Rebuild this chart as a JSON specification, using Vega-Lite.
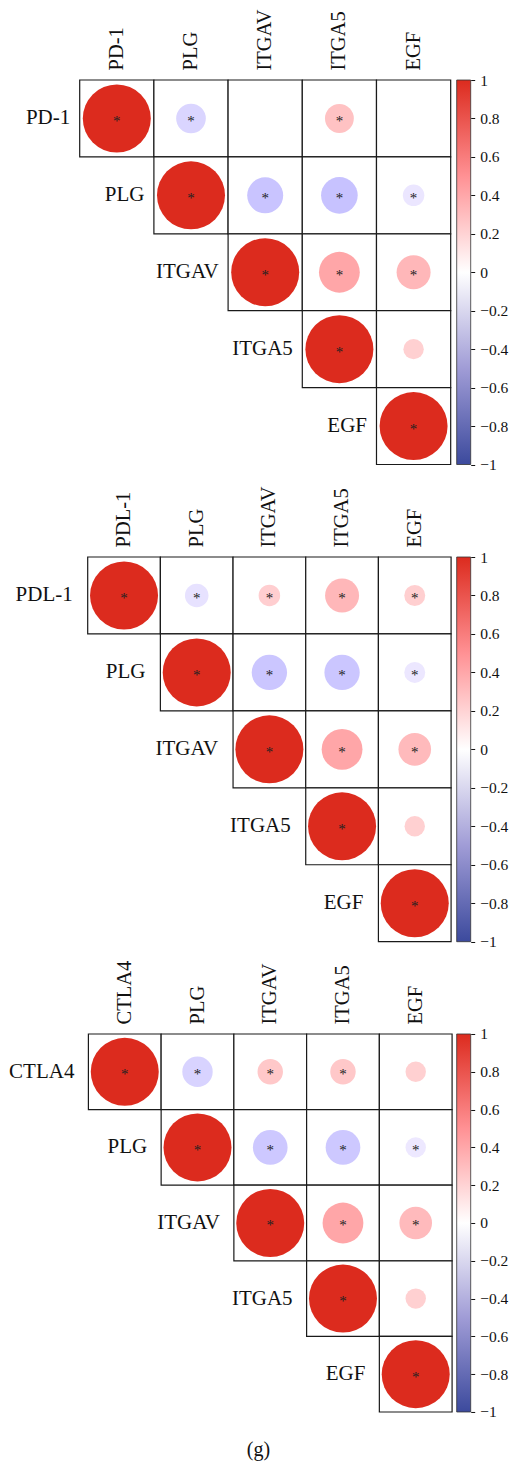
{
  "$schema": "https://vega.github.io/schema/vega-lite/v6.json",
  "padding": {"left": 8.7, "top": 8, "right": 0, "bottom": 0},
  "bounds": "flush",
  "spacing": 92,
  "title": {"text": "(g)", "orient": "bottom", "anchor": "middle", "font": "Liberation Serif", "fontSize": 20, "fontWeight": "normal", "color": "#111", "offset": 20},
  "config": {"font": "Liberation Serif", "view": {"stroke": null}, "axis": {"grid": false}},
  "datasets": {
    "pd1": [
      {"row": "PD-1", "col": "PD-1", "r": 1, "sig": true},
      {"row": "PD-1", "col": "PLG", "r": -0.19, "sig": true},
      {"row": "PD-1", "col": "ITGAV", "r": null, "sig": false},
      {"row": "PD-1", "col": "ITGA5", "r": 0.18, "sig": true},
      {"row": "PD-1", "col": "EGF", "r": null, "sig": false},
      {"row": "PLG", "col": "PLG", "r": 1, "sig": true},
      {"row": "PLG", "col": "ITGAV", "r": -0.28, "sig": true},
      {"row": "PLG", "col": "ITGA5", "r": -0.29, "sig": true},
      {"row": "PLG", "col": "EGF", "r": -0.1, "sig": true},
      {"row": "ITGAV", "col": "ITGAV", "r": 1, "sig": true},
      {"row": "ITGAV", "col": "ITGA5", "r": 0.36, "sig": true},
      {"row": "ITGAV", "col": "EGF", "r": 0.25, "sig": true},
      {"row": "ITGA5", "col": "ITGA5", "r": 1, "sig": true},
      {"row": "ITGA5", "col": "EGF", "r": 0.09, "sig": false},
      {"row": "EGF", "col": "EGF", "r": 1, "sig": true}
    ],
    "pdl1": [
      {"row": "PDL-1", "col": "PDL-1", "r": 1, "sig": true},
      {"row": "PDL-1", "col": "PLG", "r": -0.12, "sig": true},
      {"row": "PDL-1", "col": "ITGAV", "r": 0.1, "sig": true},
      {"row": "PDL-1", "col": "ITGA5", "r": 0.25, "sig": true},
      {"row": "PDL-1", "col": "EGF", "r": 0.095, "sig": true},
      {"row": "PLG", "col": "PLG", "r": 1, "sig": true},
      {"row": "PLG", "col": "ITGAV", "r": -0.27, "sig": true},
      {"row": "PLG", "col": "ITGA5", "r": -0.27, "sig": true},
      {"row": "PLG", "col": "EGF", "r": -0.095, "sig": true},
      {"row": "ITGAV", "col": "ITGAV", "r": 1, "sig": true},
      {"row": "ITGAV", "col": "ITGA5", "r": 0.36, "sig": true},
      {"row": "ITGAV", "col": "EGF", "r": 0.23, "sig": true},
      {"row": "ITGA5", "col": "ITGA5", "r": 1, "sig": true},
      {"row": "ITGA5", "col": "EGF", "r": 0.09, "sig": false},
      {"row": "EGF", "col": "EGF", "r": 1, "sig": true}
    ],
    "ctla4": [
      {"row": "CTLA4", "col": "CTLA4", "r": 1, "sig": true},
      {"row": "CTLA4", "col": "PLG", "r": -0.2, "sig": true},
      {"row": "CTLA4", "col": "ITGAV", "r": 0.14, "sig": true},
      {"row": "CTLA4", "col": "ITGA5", "r": 0.14, "sig": true},
      {"row": "CTLA4", "col": "EGF", "r": 0.09, "sig": false},
      {"row": "PLG", "col": "PLG", "r": 1, "sig": true},
      {"row": "PLG", "col": "ITGAV", "r": -0.26, "sig": true},
      {"row": "PLG", "col": "ITGA5", "r": -0.26, "sig": true},
      {"row": "PLG", "col": "EGF", "r": -0.09, "sig": true},
      {"row": "ITGAV", "col": "ITGAV", "r": 1, "sig": true},
      {"row": "ITGAV", "col": "ITGA5", "r": 0.36, "sig": true},
      {"row": "ITGAV", "col": "EGF", "r": 0.23, "sig": true},
      {"row": "ITGA5", "col": "ITGA5", "r": 1, "sig": true},
      {"row": "ITGA5", "col": "EGF", "r": 0.09, "sig": false},
      {"row": "EGF", "col": "EGF", "r": 1, "sig": true}
    ],
    "bar": [{"lo": -1, "hi": 1}]
  },
  "vconcat": [
    {
      "width": 391, "height": 384.5,
      "resolve": {"scale": {"x": "independent", "y": "independent"}, "axis": {"x": "independent", "y": "independent"}},
      "layer": [
        {
          "data": {"name": "pd1"},
          "encoding": {
            "x": {"field": "col", "type": "nominal", "title": null,
              "scale": {"domain": ["PD-1", "PLG", "ITGAV", "ITGA5", "EGF"], "range": [0, 371], "paddingInner": 0, "paddingOuter": 0},
              "axis": {"orient": "top", "labelAngle": 270, "labelFont": "Liberation Serif", "labelFontSize": 20.5, "labelColor": "#111", "labelPadding": 10, "domain": false, "ticks": false}},
            "y": {"field": "row", "type": "nominal", "title": null,
              "scale": {"domain": ["PD-1", "PLG", "ITGAV", "ITGA5", "EGF"], "paddingInner": 0, "paddingOuter": 0},
              "axis": null}
          },
          "layer": [
            {"mark": {"type": "rect", "fill": "white", "stroke": "#1a1a1a", "strokeWidth": 1.2}},
            {"transform": [{"filter": "datum.r != null"}],
             "mark": {"type": "circle", "opacity": 1},
             "encoding": {
               "color": {"field": "r", "type": "quantitative", "legend": null,
                 "scale": {"domain": [-1, -0.5, 0, 0.5, 1], "range": ["#3C4A9D", "#A09CD6", "#FFFFFF", "#FF9194", "#DC2B1E"]}},
               "size": {"field": "r", "type": "quantitative", "legend": null,
                 "scale": {"type": "linear", "zero": false, "domain": [-1, 0, 1], "range": [4624, 0, 4624]}}
             }},
            {"transform": [{"filter": "datum.sig"}],
             "mark": {"type": "text", "text": "*", "font": "Liberation Serif", "fontSize": 15, "color": "#222", "baseline": "alphabetic", "dy": 7.5}},
            {"transform": [{"filter": "datum.row === datum.col"}],
             "mark": {"type": "text", "font": "Liberation Serif", "fontSize": 21, "color": "#111", "align": "right", "baseline": "middle", "dx": -9.5},
             "encoding": {
               "x": {"field": "col", "type": "nominal", "bandPosition": 0},
               "text": {"field": "row"}
             }}
          ]
        },
        {
          "data": {"name": "bar"},
          "mark": {"type": "rect", "stroke": "#333", "strokeWidth": 0.8,
            "fill": {"gradient": "linear", "x1": 0, "y1": 1, "x2": 0, "y2": 0,
              "stops": [{"offset": 0, "color": "#3C4A9D"}, {"offset": 0.25, "color": "#A09CD6"}, {"offset": 0.5, "color": "#FFFFFF"}, {"offset": 0.75, "color": "#FF9194"}, {"offset": 1, "color": "#DC2B1E"}]}},
          "encoding": {
            "x": {"datum": 0, "type": "quantitative", "scale": {"domain": [0, 1], "range": [377, 391]}, "axis": null},
            "x2": {"datum": 1},
            "y": {"field": "lo", "type": "quantitative", "title": null, "scale": {"domain": [-1, 1]},
              "axis": {"orient": "right", "values": [-1, -0.8, -0.6, -0.4, -0.2, 0, 0.2, 0.4, 0.6, 0.8, 1], "format": ".1~f", "domain": false, "tickSize": 4, "tickColor": "#111", "labelFont": "Liberation Serif", "labelFontSize": 15.5, "labelColor": "#111", "labelPadding": 5}},
            "y2": {"field": "hi"}
          }
        }
      ]
    },
    {
      "width": 391, "height": 384.7,
      "resolve": {"scale": {"x": "independent", "y": "independent"}, "axis": {"x": "independent", "y": "independent"}},
      "layer": [
        {
          "data": {"name": "pdl1"},
          "encoding": {
            "x": {"field": "col", "type": "nominal", "title": null,
              "scale": {"domain": ["PDL-1", "PLG", "ITGAV", "ITGA5", "EGF"], "range": [8, 371.4], "paddingInner": 0, "paddingOuter": 0},
              "axis": {"orient": "top", "labelAngle": 270, "labelFont": "Liberation Serif", "labelFontSize": 20.5, "labelColor": "#111", "labelPadding": 10, "domain": false, "ticks": false}},
            "y": {"field": "row", "type": "nominal", "title": null,
              "scale": {"domain": ["PDL-1", "PLG", "ITGAV", "ITGA5", "EGF"], "paddingInner": 0, "paddingOuter": 0},
              "axis": null}
          },
          "layer": [
            {"mark": {"type": "rect", "fill": "white", "stroke": "#1a1a1a", "strokeWidth": 1.2}},
            {"transform": [{"filter": "datum.r != null"}],
             "mark": {"type": "circle", "opacity": 1},
             "encoding": {
               "color": {"field": "r", "type": "quantitative", "legend": null,
                 "scale": {"domain": [-1, -0.5, 0, 0.5, 1], "range": ["#3C4A9D", "#A09CD6", "#FFFFFF", "#FF9194", "#DC2B1E"]}},
               "size": {"field": "r", "type": "quantitative", "legend": null,
                 "scale": {"type": "linear", "zero": false, "domain": [-1, 0, 1], "range": [4449, 0, 4449]}}
             }},
            {"transform": [{"filter": "datum.sig"}],
             "mark": {"type": "text", "text": "*", "font": "Liberation Serif", "fontSize": 15, "color": "#222", "baseline": "alphabetic", "dy": 7.5}},
            {"transform": [{"filter": "datum.row === datum.col"}],
             "mark": {"type": "text", "font": "Liberation Serif", "fontSize": 21, "color": "#111", "align": "right", "baseline": "middle", "dx": -15},
             "encoding": {
               "x": {"field": "col", "type": "nominal", "bandPosition": 0},
               "text": {"field": "row"}
             }}
          ]
        },
        {
          "data": {"name": "bar"},
          "mark": {"type": "rect", "stroke": "#333", "strokeWidth": 0.8,
            "fill": {"gradient": "linear", "x1": 0, "y1": 1, "x2": 0, "y2": 0,
              "stops": [{"offset": 0, "color": "#3C4A9D"}, {"offset": 0.25, "color": "#A09CD6"}, {"offset": 0.5, "color": "#FFFFFF"}, {"offset": 0.75, "color": "#FF9194"}, {"offset": 1, "color": "#DC2B1E"}]}},
          "encoding": {
            "x": {"datum": 0, "type": "quantitative", "scale": {"domain": [0, 1], "range": [377, 391]}, "axis": null},
            "x2": {"datum": 1},
            "y": {"field": "lo", "type": "quantitative", "title": null, "scale": {"domain": [-1, 1]},
              "axis": {"orient": "right", "values": [-1, -0.8, -0.6, -0.4, -0.2, 0, 0.2, 0.4, 0.6, 0.8, 1], "format": ".1~f", "domain": false, "tickSize": 4, "tickColor": "#111", "labelFont": "Liberation Serif", "labelFontSize": 15.5, "labelColor": "#111", "labelPadding": 5}},
            "y2": {"field": "hi"}
          }
        }
      ]
    },
    {
      "width": 391, "height": 378,
      "resolve": {"scale": {"x": "independent", "y": "independent"}, "axis": {"x": "independent", "y": "independent"}},
      "layer": [
        {
          "data": {"name": "ctla4"},
          "encoding": {
            "x": {"field": "col", "type": "nominal", "title": null,
              "scale": {"domain": ["CTLA4", "PLG", "ITGAV", "ITGA5", "EGF"], "range": [8.7, 372.4], "paddingInner": 0, "paddingOuter": 0},
              "axis": {"orient": "top", "labelAngle": 270, "labelFont": "Liberation Serif", "labelFontSize": 20.5, "labelColor": "#111", "labelPadding": 10, "domain": false, "ticks": false}},
            "y": {"field": "row", "type": "nominal", "title": null,
              "scale": {"domain": ["CTLA4", "PLG", "ITGAV", "ITGA5", "EGF"], "paddingInner": 0, "paddingOuter": 0},
              "axis": null}
          },
          "layer": [
            {"mark": {"type": "rect", "fill": "white", "stroke": "#1a1a1a", "strokeWidth": 1.2}},
            {"transform": [{"filter": "datum.r != null"}],
             "mark": {"type": "circle", "opacity": 1},
             "encoding": {
               "color": {"field": "r", "type": "quantitative", "legend": null,
                 "scale": {"domain": [-1, -0.5, 0, 0.5, 1], "range": ["#3C4A9D", "#A09CD6", "#FFFFFF", "#FF9194", "#DC2B1E"]}},
               "size": {"field": "r", "type": "quantitative", "legend": null,
                 "scale": {"type": "linear", "zero": false, "domain": [-1, 0, 1], "range": [4356, 0, 4356]}}
             }},
            {"transform": [{"filter": "datum.sig"}],
             "mark": {"type": "text", "text": "*", "font": "Liberation Serif", "fontSize": 15, "color": "#222", "baseline": "alphabetic", "dy": 7.5}},
            {"transform": [{"filter": "datum.row === datum.col"}],
             "mark": {"type": "text", "font": "Liberation Serif", "fontSize": 21, "color": "#111", "align": "right", "baseline": "middle", "dx": -14},
             "encoding": {
               "x": {"field": "col", "type": "nominal", "bandPosition": 0},
               "text": {"field": "row"}
             }}
          ]
        },
        {
          "data": {"name": "bar"},
          "mark": {"type": "rect", "stroke": "#333", "strokeWidth": 0.8,
            "fill": {"gradient": "linear", "x1": 0, "y1": 1, "x2": 0, "y2": 0,
              "stops": [{"offset": 0, "color": "#3C4A9D"}, {"offset": 0.25, "color": "#A09CD6"}, {"offset": 0.5, "color": "#FFFFFF"}, {"offset": 0.75, "color": "#FF9194"}, {"offset": 1, "color": "#DC2B1E"}]}},
          "encoding": {
            "x": {"datum": 0, "type": "quantitative", "scale": {"domain": [0, 1], "range": [377, 391]}, "axis": null},
            "x2": {"datum": 1},
            "y": {"field": "lo", "type": "quantitative", "title": null, "scale": {"domain": [-1, 1]},
              "axis": {"orient": "right", "values": [-1, -0.8, -0.6, -0.4, -0.2, 0, 0.2, 0.4, 0.6, 0.8, 1], "format": ".1~f", "domain": false, "tickSize": 4, "tickColor": "#111", "labelFont": "Liberation Serif", "labelFontSize": 15.5, "labelColor": "#111", "labelPadding": 5}},
            "y2": {"field": "hi"}
          }
        }
      ]
    }
  ]
}
